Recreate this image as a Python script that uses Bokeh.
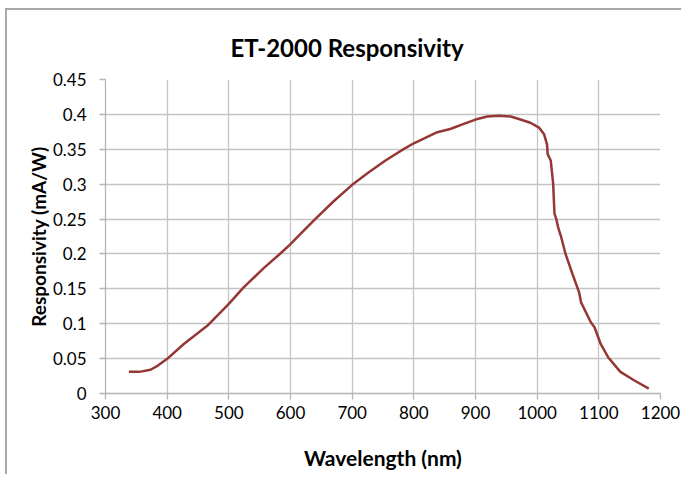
from bokeh.plotting import figure
from bokeh.models import Range1d, FixedTicker
from bokeh.embed import file_html
from bokeh.resources import INLINE

wavelength = [338, 355, 373, 385, 400, 427, 465, 500, 524, 557, 584, 600, 611, 640,
              670, 700, 727, 754, 784, 800, 838, 859, 881, 900, 919, 938, 957, 973,
              989, 1003, 1011, 1016, 1017, 1022, 1026, 1028, 1031, 1034, 1039, 1046,
              1057, 1068, 1071, 1087, 1093, 1103, 1115, 1135, 1157, 1181]
responsivity = [0.031, 0.031, 0.034, 0.040, 0.0497, 0.071, 0.097, 0.1285, 0.152, 0.180,
                0.201, 0.214, 0.224, 0.250, 0.2755, 0.299, 0.317, 0.334, 0.3505, 0.3586,
                0.3745, 0.379, 0.3864, 0.3926, 0.397, 0.398, 0.397, 0.3926, 0.388, 0.381,
                0.372, 0.357, 0.343, 0.334, 0.300, 0.258, 0.250, 0.238, 0.224, 0.200,
                0.172, 0.145, 0.131, 0.102, 0.095, 0.071, 0.052, 0.031, 0.019, 0.007]

x_ticks = [300, 400, 500, 600, 700, 800, 900, 1000, 1100, 1200]
y_ticks = [0, 0.05, 0.1, 0.15, 0.2, 0.25, 0.3, 0.35, 0.4, 0.45]
y_tick_labels = ["0", "0.05", "0.1", "0.15", "0.2", "0.25", "0.3", "0.35", "0.4", "0.45"]

title_text = "ET-2000 Responsivity"
x_label = "Wavelength (nm)"
y_label = "Responsivity (mA/W)"

GRID = "#c4c4c4"
AXIS = "#b4b4b4"
LINE = "#953735"
FONT = "Lato"

p = figure(width=676, height=466, output_backend="svg", toolbar_location=None,
           x_range=Range1d(300, 1200), y_range=Range1d(0, 0.45),
           min_border_left=98, min_border_right=23, min_border_top=69,
           min_border_bottom=83)

p.styles = {"border-left": "2px solid #a8a8a8", "border-top": "2px solid #a8a8a8",
            "margin-left": "5px", "margin-top": "8px"}

p.line(wavelength, responsivity, line_color=LINE, line_width=2.5)

p.title.text = title_text
p.title.align = "left"
p.title.vertical_align = "top"
p.title.offset = 125
p.title.text_font = FONT
p.title.text_font_style = "bold"
p.title.text_font_size = "24px"
p.title.text_color = "#000000"
p.title.standoff = 32

p.outline_line_color = None
p.background_fill_color = "white"
p.border_fill_color = "white"

p.xaxis.ticker = FixedTicker(ticks=x_ticks)
p.yaxis.ticker = FixedTicker(ticks=y_ticks)
p.yaxis.major_label_overrides = {t: l for t, l in zip(y_ticks, y_tick_labels)}

for ax in (p.xaxis[0], p.yaxis[0]):
    ax.axis_line_color = AXIS
    ax.axis_line_width = 1.3
    ax.major_tick_line_color = AXIS
    ax.major_tick_line_width = 1.3
    ax.major_tick_in = 0
    ax.major_tick_out = 6
    ax.minor_tick_line_color = None
    ax.major_label_text_font = FONT
    ax.major_label_text_font_size = "17px"
    ax.major_label_text_color = "#000000"
    ax.axis_label_text_font = FONT
    ax.axis_label_text_font_style = "bold"
    ax.axis_label_text_color = "#000000"

p.xaxis.axis_label = x_label
p.yaxis.axis_label = y_label
p.xaxis.axis_label_text_font_size = "21px"
p.yaxis.axis_label_text_font_size = "19px"
p.xaxis.major_label_standoff = 6
p.yaxis.major_label_standoff = 13
p.xaxis.axis_label_standoff = 23
p.yaxis.axis_label_standoff = 0

p.xgrid.grid_line_color = GRID
p.ygrid.grid_line_color = GRID
p.xgrid.grid_line_width = 1.3
p.ygrid.grid_line_width = 1.3

open("out.html", "w").write(file_html(p, INLINE))
